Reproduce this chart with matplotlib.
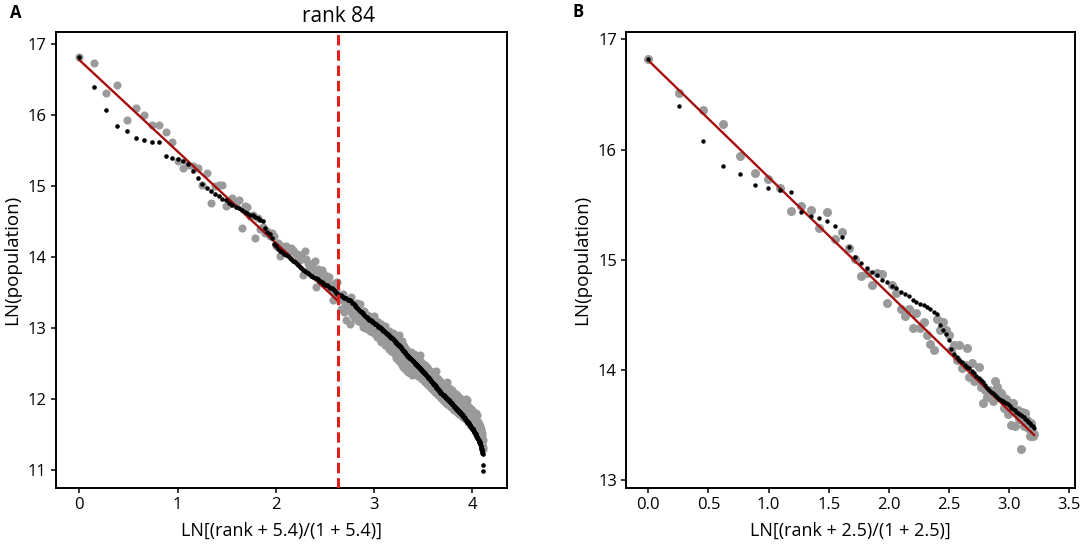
import numpy as np
import matplotlib
matplotlib.use('Agg')
import matplotlib.pyplot as plt
import matplotlib.transforms as mtransforms

plt.rcParams['font.family'] = ['Open Sans', 'DejaVu Sans']

# LN(population) of the ranked cities, rank 1..385 (black dots)
ln_pop = [
    16.82, 16.40, 16.08, 15.85, 15.78, 15.68, 15.65, 15.63, 15.62, 15.43,
    15.40, 15.38, 15.35, 15.31, 15.21, 15.12, 15.03, 14.97, 14.93, 14.89,
    14.86, 14.82, 14.80, 14.76, 14.74, 14.71, 14.69, 14.67, 14.64, 14.62,
    14.60, 14.59, 14.57, 14.55, 14.53, 14.51, 14.41, 14.36, 14.33, 14.27,
    14.19, 14.15, 14.12, 14.09, 14.07, 14.05, 14.03, 14.02, 13.99, 13.97,
    13.95, 13.93, 13.91, 13.89, 13.86, 13.84, 13.82, 13.80, 13.79, 13.77,
    13.76, 13.74, 13.73, 13.72, 13.71, 13.70, 13.69, 13.67, 13.66, 13.65,
    13.64, 13.62, 13.61, 13.60, 13.59, 13.58, 13.57, 13.56, 13.55, 13.53,
    13.52, 13.50, 13.49, 13.47, 13.46, 13.46, 13.45, 13.44, 13.43, 13.43,
    13.42, 13.41, 13.40, 13.40, 13.39, 13.38, 13.36, 13.35, 13.34, 13.32,
    13.31, 13.29, 13.28, 13.27, 13.25, 13.24, 13.23, 13.22, 13.21, 13.20,
    13.18, 13.17, 13.16, 13.15, 13.14, 13.13, 13.12, 13.12, 13.11, 13.10,
    13.09, 13.08, 13.07, 13.06, 13.06, 13.05, 13.04, 13.03, 13.02, 13.01,
    13.01, 13.00, 12.99, 12.98, 12.97, 12.96, 12.96, 12.95, 12.94, 12.93,
    12.92, 12.91, 12.91, 12.90, 12.89, 12.88, 12.87, 12.86, 12.86, 12.85,
    12.84, 12.83, 12.82, 12.81, 12.80, 12.79, 12.78, 12.77, 12.76, 12.76,
    12.75, 12.74, 12.73, 12.72, 12.71, 12.70, 12.69, 12.68, 12.67, 12.66,
    12.65, 12.64, 12.63, 12.62, 12.61, 12.61, 12.60, 12.59, 12.58, 12.58,
    12.57, 12.56, 12.55, 12.55, 12.54, 12.53, 12.52, 12.52, 12.51, 12.50,
    12.49, 12.49, 12.48, 12.47, 12.47, 12.46, 12.45, 12.44, 12.44, 12.43,
    12.42, 12.42, 12.41, 12.40, 12.39, 12.39, 12.38, 12.37, 12.37, 12.36,
    12.35, 12.34, 12.34, 12.33, 12.32, 12.32, 12.31, 12.30, 12.29, 12.29,
    12.28, 12.27, 12.26, 12.26, 12.25, 12.24, 12.24, 12.23, 12.22, 12.21,
    12.21, 12.20, 12.19, 12.19, 12.18, 12.17, 12.16, 12.16, 12.15, 12.14,
    12.14, 12.13, 12.12, 12.11, 12.11, 12.10, 12.09, 12.09, 12.08, 12.08,
    12.07, 12.07, 12.06, 12.06, 12.05, 12.05, 12.04, 12.04, 12.03, 12.03,
    12.02, 12.02, 12.01, 12.01, 12.00, 12.00, 11.99, 11.99, 11.98, 11.98,
    11.97, 11.97, 11.96, 11.96, 11.95, 11.95, 11.94, 11.94, 11.93, 11.93,
    11.92, 11.92, 11.91, 11.90, 11.90, 11.89, 11.89, 11.88, 11.88, 11.87,
    11.87, 11.86, 11.86, 11.85, 11.85, 11.84, 11.84, 11.83, 11.83, 11.82,
    11.82, 11.81, 11.81, 11.80, 11.80, 11.79, 11.79, 11.78, 11.78, 11.77,
    11.77, 11.76, 11.76, 11.75, 11.75, 11.74, 11.74, 11.73, 11.72, 11.72,
    11.71, 11.71, 11.70, 11.70, 11.69, 11.68, 11.68, 11.67, 11.67, 11.66,
    11.66, 11.65, 11.64, 11.64, 11.63, 11.63, 11.62, 11.61, 11.61, 11.60,
    11.60, 11.59, 11.59, 11.58, 11.58, 11.57, 11.57, 11.56, 11.55, 11.55,
    11.54, 11.53, 11.52, 11.52, 11.51, 11.50, 11.49, 11.49, 11.48, 11.47,
    11.46, 11.46, 11.45, 11.44, 11.43, 11.43, 11.42, 11.41, 11.40, 11.40,
    11.39, 11.38, 11.37, 11.36, 11.34, 11.33, 11.32, 11.30, 11.29, 11.27,
    11.26, 11.24, 11.22, 11.07, 10.99,
]

# gray dots of panel A, same ranks
gray_a = [
    16.82, 16.74, 16.31, 16.43, 15.94, 16.10, 16.00, 15.87, 15.86, 15.76,
    15.62, 15.36, 15.26, 15.30, 15.29, 15.25, 15.02, 15.18, 14.77, 15.00,
    15.01, 15.02, 14.72, 14.75, 14.84, 14.77, 14.80, 14.41, 14.72, 14.70,
    14.58, 14.60, 14.27, 14.55, 14.39, 14.42, 14.34, 14.37, 14.30, 14.34,
    14.30, 14.15, 14.20, 14.01, 14.16, 14.13, 14.15, 14.10, 14.08, 14.13,
    14.10, 14.06, 14.05, 14.00, 13.96, 14.03, 13.75, 14.08, 13.98, 13.92,
    13.87, 13.85, 13.91, 13.80, 13.94, 13.58, 13.83, 13.76, 13.79, 13.82,
    13.77, 13.68, 13.62, 13.74, 13.70, 13.72, 13.60, 13.55, 13.39, 13.50,
    13.63, 13.53, 13.65, 13.45, 13.40, 13.27, 13.39, 13.48, 13.22, 13.31,
    13.12, 13.36, 13.25, 13.33, 13.05, 13.44, 13.20, 13.28, 13.16, 13.30,
    13.14, 13.15, 13.36, 13.10, 13.21, 13.34, 13.08, 13.15, 13.02, 13.05,
    13.24, 13.00, 13.09, 13.18, 12.98, 13.06, 13.17, 12.96, 13.03, 13.12,
    12.94, 13.01, 13.17, 12.92, 12.99, 13.10, 12.88, 12.97, 13.08, 12.86,
    12.95, 12.80, 13.06, 12.90, 12.82, 12.99, 12.85, 12.76, 13.03, 12.84,
    12.74, 12.93, 12.80, 12.70, 12.96, 12.78, 12.68, 12.88, 12.75, 12.66,
    12.93, 12.72, 12.63, 12.86, 12.70, 12.58, 12.84, 12.66, 12.55, 12.90,
    12.62, 12.52, 12.78, 12.60, 12.48, 12.82, 12.57, 12.45, 12.74, 12.55,
    12.42, 12.70, 12.52, 12.40, 12.68, 12.50, 12.38, 12.62, 12.47, 12.36,
    12.66, 12.45, 12.34, 12.60, 12.43, 12.52, 12.38, 12.64, 12.41, 12.55,
    12.36, 12.46, 12.60, 12.39, 12.52, 12.33, 12.48, 12.58, 12.62, 12.47,
    12.30, 12.52, 12.38, 12.44, 12.28, 12.50, 12.34, 12.42, 12.25, 12.48,
    12.31, 12.39, 12.22, 12.45, 12.29, 12.37, 12.20, 12.42, 12.26, 12.34,
    12.18, 12.40, 12.23, 12.31, 12.15, 12.38, 12.20, 12.29, 12.13, 12.35,
    12.18, 12.26, 12.10, 12.33, 12.15, 12.40, 12.08, 12.30, 12.13, 12.22,
    12.06, 12.28, 12.11, 12.19, 12.04, 12.25, 12.08, 12.17, 12.01, 12.23,
    12.06, 12.15, 11.99, 12.21, 12.04, 12.13, 11.97, 12.19, 12.02, 12.12,
    11.95, 12.18, 12.00, 12.10, 11.93, 12.24, 11.98, 12.08, 11.91, 12.15,
    11.96, 12.06, 11.90, 12.13, 11.94, 12.05, 11.88, 12.12, 11.93, 12.03,
    11.86, 12.10, 11.91, 12.02, 11.85, 12.08, 11.90, 12.00, 11.84, 12.07,
    11.89, 11.98, 11.82, 12.05, 11.88, 11.97, 11.80, 12.03, 11.86, 11.95,
    11.79, 12.01, 11.85, 11.94, 11.77, 11.99, 11.84, 11.93, 11.76, 11.98,
    11.83, 11.92, 11.75, 11.97, 11.82, 11.90, 11.73, 11.95, 11.80, 11.89,
    11.72, 12.00, 11.79, 11.87, 11.70, 11.98, 11.77, 11.86, 11.68, 11.90,
    11.75, 11.84, 11.66, 11.88, 11.73, 11.82, 11.64, 11.86, 11.71, 11.80,
    11.62, 11.84, 11.69, 11.78, 11.60, 11.81, 11.67, 11.76, 11.58, 11.79,
    11.65, 11.74, 11.56, 11.76, 11.62, 11.72, 11.54, 11.80, 11.60, 11.69,
    11.52, 11.78, 11.57, 11.66, 11.49, 11.68, 11.54, 11.63, 11.47, 11.65,
    11.51, 11.60, 11.44, 11.62, 11.48, 11.56, 11.40, 11.58, 11.44, 11.52,
    11.36, 11.48, 11.32, 11.42, 11.30,
]

# gray dots of panel B, ranks 1..84
gray_b = [
    16.82, 16.51, 16.36, 16.23, 15.94, 15.79, 15.73, 15.65, 15.44, 15.49,
    15.45, 15.29, 15.43, 15.19, 15.25, 15.11, 15.01, 14.85, 14.88, 14.77,
    14.88, 14.87, 14.61, 14.77, 14.70, 14.55, 14.49, 14.55, 14.38, 14.52,
    14.38, 14.44, 14.32, 14.24, 14.18, 14.46, 14.36, 14.44, 14.36, 14.32,
    14.18, 14.23, 14.09, 14.23, 14.02, 14.05, 14.20, 13.94, 14.06, 13.90,
    13.91, 14.03, 13.85, 13.70, 13.82, 13.76, 13.82, 13.78, 13.72, 13.90,
    13.85, 13.79, 13.79, 13.76, 13.66, 13.74, 13.60, 13.70, 13.50, 13.70,
    13.49, 13.61, 13.64, 13.56, 13.28, 13.62, 13.49, 13.61, 13.55, 13.47,
    13.40, 13.52, 13.40, 13.42,
]

cut_rank = 84
shift_a = 5.4
shift_b = 2.5
fit_a = (16.78, -1.29)   # intercept, slope
fit_b = (16.81, -1.06)

ranks = np.arange(1, len(ln_pop) + 1)
x_a = np.log((ranks + shift_a) / (1 + shift_a))
x_b = np.log((ranks[:cut_rank] + shift_b) / (1 + shift_b))
x_cut = np.log((cut_rank + shift_a) / (1 + shift_a))

GRAY = '#9a9a9a'
LINE = '#a50f0f'

fig = plt.figure(figsize=(10.84, 5.6), dpi=100)
ax_a = fig.add_axes([0.0514, 0.128, 0.416, 0.8143])
ax_b = fig.add_axes([0.5775, 0.1286, 0.4142, 0.8148])

# panel A
ax_a.scatter(x_a, gray_a, s=34, color=GRAY, linewidths=0, zorder=1)
xl = np.array([0, x_cut])
ax_a.plot(xl, fit_a[0] + fit_a[1] * xl, color=LINE, lw=1.7, zorder=2)
ax_a.scatter(x_a, ln_pop, s=11, color='black', linewidths=0, zorder=3)
ax_a.axvline(x_cut, color='#e0201b', lw=2.2, ls=(0, (3.4, 1.6)), zorder=4)
trans = mtransforms.blended_transform_factory(ax_a.transData, ax_a.transAxes)
ax_a.text(x_cut, 1.012, 'rank 84', transform=trans, ha='center', va='bottom', fontsize=15)
ax_a.set_xlim(-0.24, 4.35)
ax_a.set_ylim(10.74, 17.17)
ax_a.set_xticks([0, 1, 2, 3, 4])
ax_a.set_yticks([11, 12, 13, 14, 15, 16, 17])
ax_a.set_xlabel('LN[(rank + 5.4)/(1 + 5.4)]', fontsize=13, labelpad=6)
ax_a.set_ylabel('LN(population)', fontsize=13.5, labelpad=5)

# panel B
xb = np.array([0, x_b[-1]])
ax_b.scatter(x_b, gray_b, s=42, color=GRAY, linewidths=0, zorder=1)
ax_b.plot(xb, fit_b[0] + fit_b[1] * xb, color=LINE, lw=1.7, zorder=2)
ax_b.scatter(x_b, ln_pop[:cut_rank], s=10, color='black', linewidths=0, zorder=3)
ax_b.set_xlim(-0.185, 3.547)
ax_b.set_ylim(12.93, 17.07)
ax_b.set_xticks([0, 0.5, 1, 1.5, 2, 2.5, 3, 3.5])
ax_b.set_xticklabels(['0.0', '0.5', '1.0', '1.5', '2.0', '2.5', '3.0', '3.5'])
ax_b.set_yticks([13, 14, 15, 16, 17])
ax_b.set_xlabel('LN[(rank + 2.5)/(1 + 2.5)]', fontsize=13, labelpad=6)
ax_b.set_ylabel('LN(population)', fontsize=13.5, labelpad=5)

for ax in (ax_a, ax_b):
    for sp in ax.spines.values():
        sp.set_linewidth(1.4)
        sp.set_color('black')
    ax.tick_params(direction='out', length=3.5, width=1.1, labelsize=12, pad=3)

fig.text(10 / 1084, 1 - 13 / 560, 'A', fontsize=12, fontweight='bold', va='center', ha='left')
fig.text(572 / 1084, 1 - 12 / 560, 'B', fontsize=12, fontweight='bold', va='center', ha='left')

fig.savefig('out.png', dpi=100)
